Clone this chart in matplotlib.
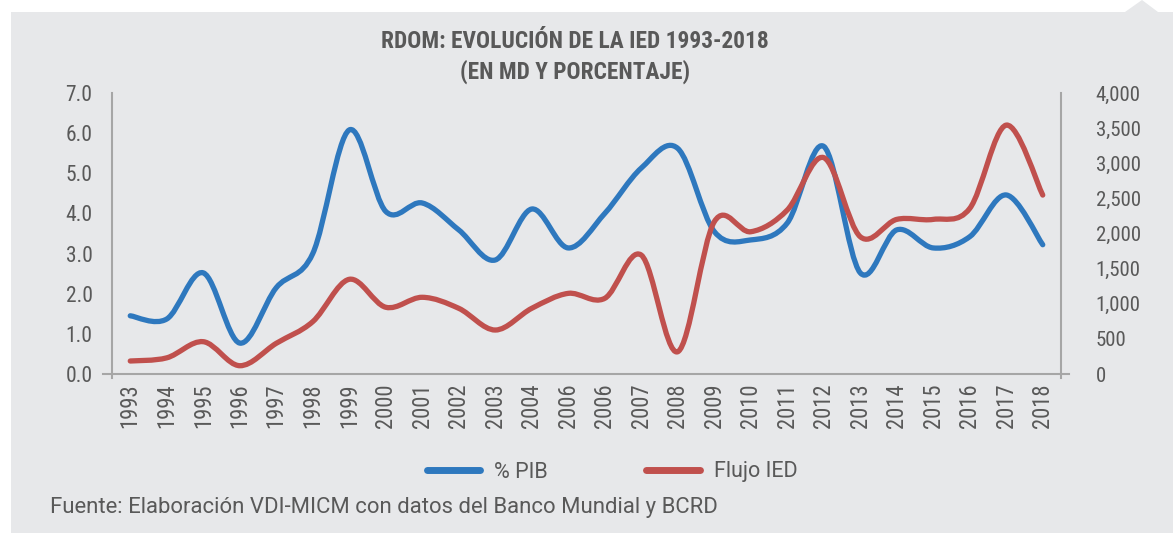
import matplotlib
matplotlib.use("Agg")
import matplotlib.pyplot as plt
from matplotlib import font_manager
from matplotlib.path import Path
from matplotlib.patches import PathPatch, Polygon, Rectangle
from matplotlib.lines import Line2D
import numpy as np

# ---------------- data ----------------
years = ["1993", "1994", "1995", "1996", "1997", "1998", "1999", "2000", "2001",
         "2002", "2003", "2004", "2006", "2006", "2007", "2008", "2009", "2010",
         "2011", "2012", "2013", "2014", "2015", "2016", "2017", "2018"]
pib_pct = [1.45, 1.37, 2.52, 0.77, 2.15, 3.0, 6.08, 4.05, 4.26, 3.59, 2.84, 4.11,
           3.14, 4.0, 5.13, 5.62, 3.55, 3.34, 3.76, 5.67, 2.52, 3.59, 3.14, 3.42,
           4.46, 3.22]
flujo_ied = [185, 230, 460, 118, 437, 745, 1348, 950, 1092, 935, 626, 935, 1148,
             1077, 1693, 317, 2167, 2025, 2334, 3080, 1954, 2201, 2201, 2357, 3543,
             2547]
left_ticks = [0, 1, 2, 3, 4, 5, 6, 7]
right_ticks = [0, 500, 1000, 1500, 2000, 2500, 3000, 3500, 4000]
title = "RDOM: EVOLUCIÓN DE LA IED 1993-2018\n(EN MD Y PORCENTAJE)"
source = "Fuente: Elaboración VDI-MICM con datos del Banco Mundial y BCRD"
series_names = ["% PIB", "Flujo IED"]

# ---------------- style ----------------
available = {f.name for f in font_manager.fontManager.ttflist}
def pick(cands):
    for c in cands:
        if c in available:
            return c
    return "DejaVu Sans"
narrow = pick(["Roboto Condensed", "Liberation Sans Narrow", "DejaVu Sans"])
regular = pick(["Roboto", "Liberation Sans", "DejaVu Sans"])

BG = "#E7E8EA"
TXT = "#595959"
AX = "#A6A6A6"
BLUE = "#2E78BE"
RED = "#C0504D"
W, H = 1173, 533

fig = plt.figure(figsize=(W / 100, H / 100), dpi=100)
fig.patch.set_facecolor("white")
# gray panel with small notch on top right
fig.patches.append(Rectangle((11 / W, 0), 1 - 11 / W, 1 - 12 / H, transform=fig.transFigure,
                             facecolor=BG, edgecolor="none", zorder=-100))
fig.patches.append(Polygon([(1125 / W, 1 - 12 / H), (1142 / W, 1.0), (1158 / W, 1 - 12 / H)],
                           closed=True, transform=fig.transFigure, facecolor=BG,
                           edgecolor="none", zorder=-100))

x0, x1 = 112, 1061
y_top, y_bot = 93, 374
ax = fig.add_axes([x0 / W, 1 - y_bot / H, (x1 - x0) / W, (y_bot - y_top) / H])
ax2 = ax.twinx()
ax.patch.set_visible(False)
ax2.patch.set_visible(False)

n = len(years)
xs = np.arange(n)
ax.set_xlim(-0.5, n - 0.5)
ax.set_ylim(0, 7)
ax2.set_ylim(0, 4000)

def smooth_path(x, y):
    pts = np.column_stack([x, y]).astype(float)
    verts = [pts[0]]
    codes = [Path.MOVETO]
    m = len(pts)
    for i in range(m - 1):
        p0 = pts[i - 1] if i > 0 else pts[i]
        p1 = pts[i]
        p2 = pts[i + 1]
        p3 = pts[i + 2] if i + 2 < m else pts[i + 1]
        c1 = p1 + (p2 - p0) / 6.0
        c2 = p2 - (p3 - p1) / 6.0
        verts += [c1, c2, p2]
        codes += [Path.CURVE4] * 3
    return Path(verts, codes)

lw = 3.8
ax.add_patch(PathPatch(smooth_path(xs, pib_pct), facecolor="none", edgecolor=BLUE,
                       lw=lw, capstyle="round", joinstyle="round", zorder=3))
ax2.add_patch(PathPatch(smooth_path(xs, flujo_ied), facecolor="none", edgecolor=RED,
                        lw=lw, capstyle="round", joinstyle="round", zorder=3))

for a in (ax, ax2):
    for s in a.spines.values():
        s.set_visible(False)
    a.tick_params(length=0)

ax.set_xticks(xs)
ax.set_xticklabels(years, rotation=90, fontsize=16.3, color=TXT, family=narrow)
ax.tick_params(axis="x", pad=7)
ax.set_yticks(left_ticks)
ax.set_yticklabels([f"{v:.1f}" for v in left_ticks], fontsize=15.5, color=TXT, family=narrow)
ax.tick_params(axis="y", pad=14)
ax2.set_yticks(right_ticks)
ax2.set_yticklabels([f"{v:,}" for v in right_ticks], fontsize=15, color=TXT, family=narrow)
ax2.tick_params(axis="y", pad=25)

# axis lines (Excel style)
def fx(px):
    return px / W
def fy(py):
    return 1 - py / H
fig.add_artist(Line2D([fx(103), fx(1069)], [fy(374), fy(374)], color=AX, lw=1.5, zorder=-50))
fig.add_artist(Line2D([fx(112), fx(112)], [fy(93), fy(378)], color=AX, lw=1.5, zorder=-50))
fig.add_artist(Line2D([fx(1061), fx(1061)], [fy(93), fy(378)], color=AX, lw=1.5, zorder=-50))

fig.text(0.5 * (383 + 767) / W, fy(57), title, ha="center", va="center",
         fontsize=16.8, fontweight="bold", color=TXT, family=narrow, linespacing=1.35)

handles = [Line2D([], [], color=BLUE, lw=5, solid_capstyle="round"),
           Line2D([], [], color=RED, lw=5, solid_capstyle="round")]
fig.legend(handles, series_names, loc="center", bbox_to_anchor=(fx(612), fy(472)),
           ncol=2, frameon=False, handlelength=2.5, handletextpad=0.65, columnspacing=4.55,
           prop={"family": regular, "size": 15.5}, labelcolor=TXT)

fig.text(fx(50), fy(508), source, ha="left", va="center", fontsize=15.9, color=TXT,
         family=regular)

fig.savefig("out.png", dpi=100, facecolor=fig.get_facecolor())
